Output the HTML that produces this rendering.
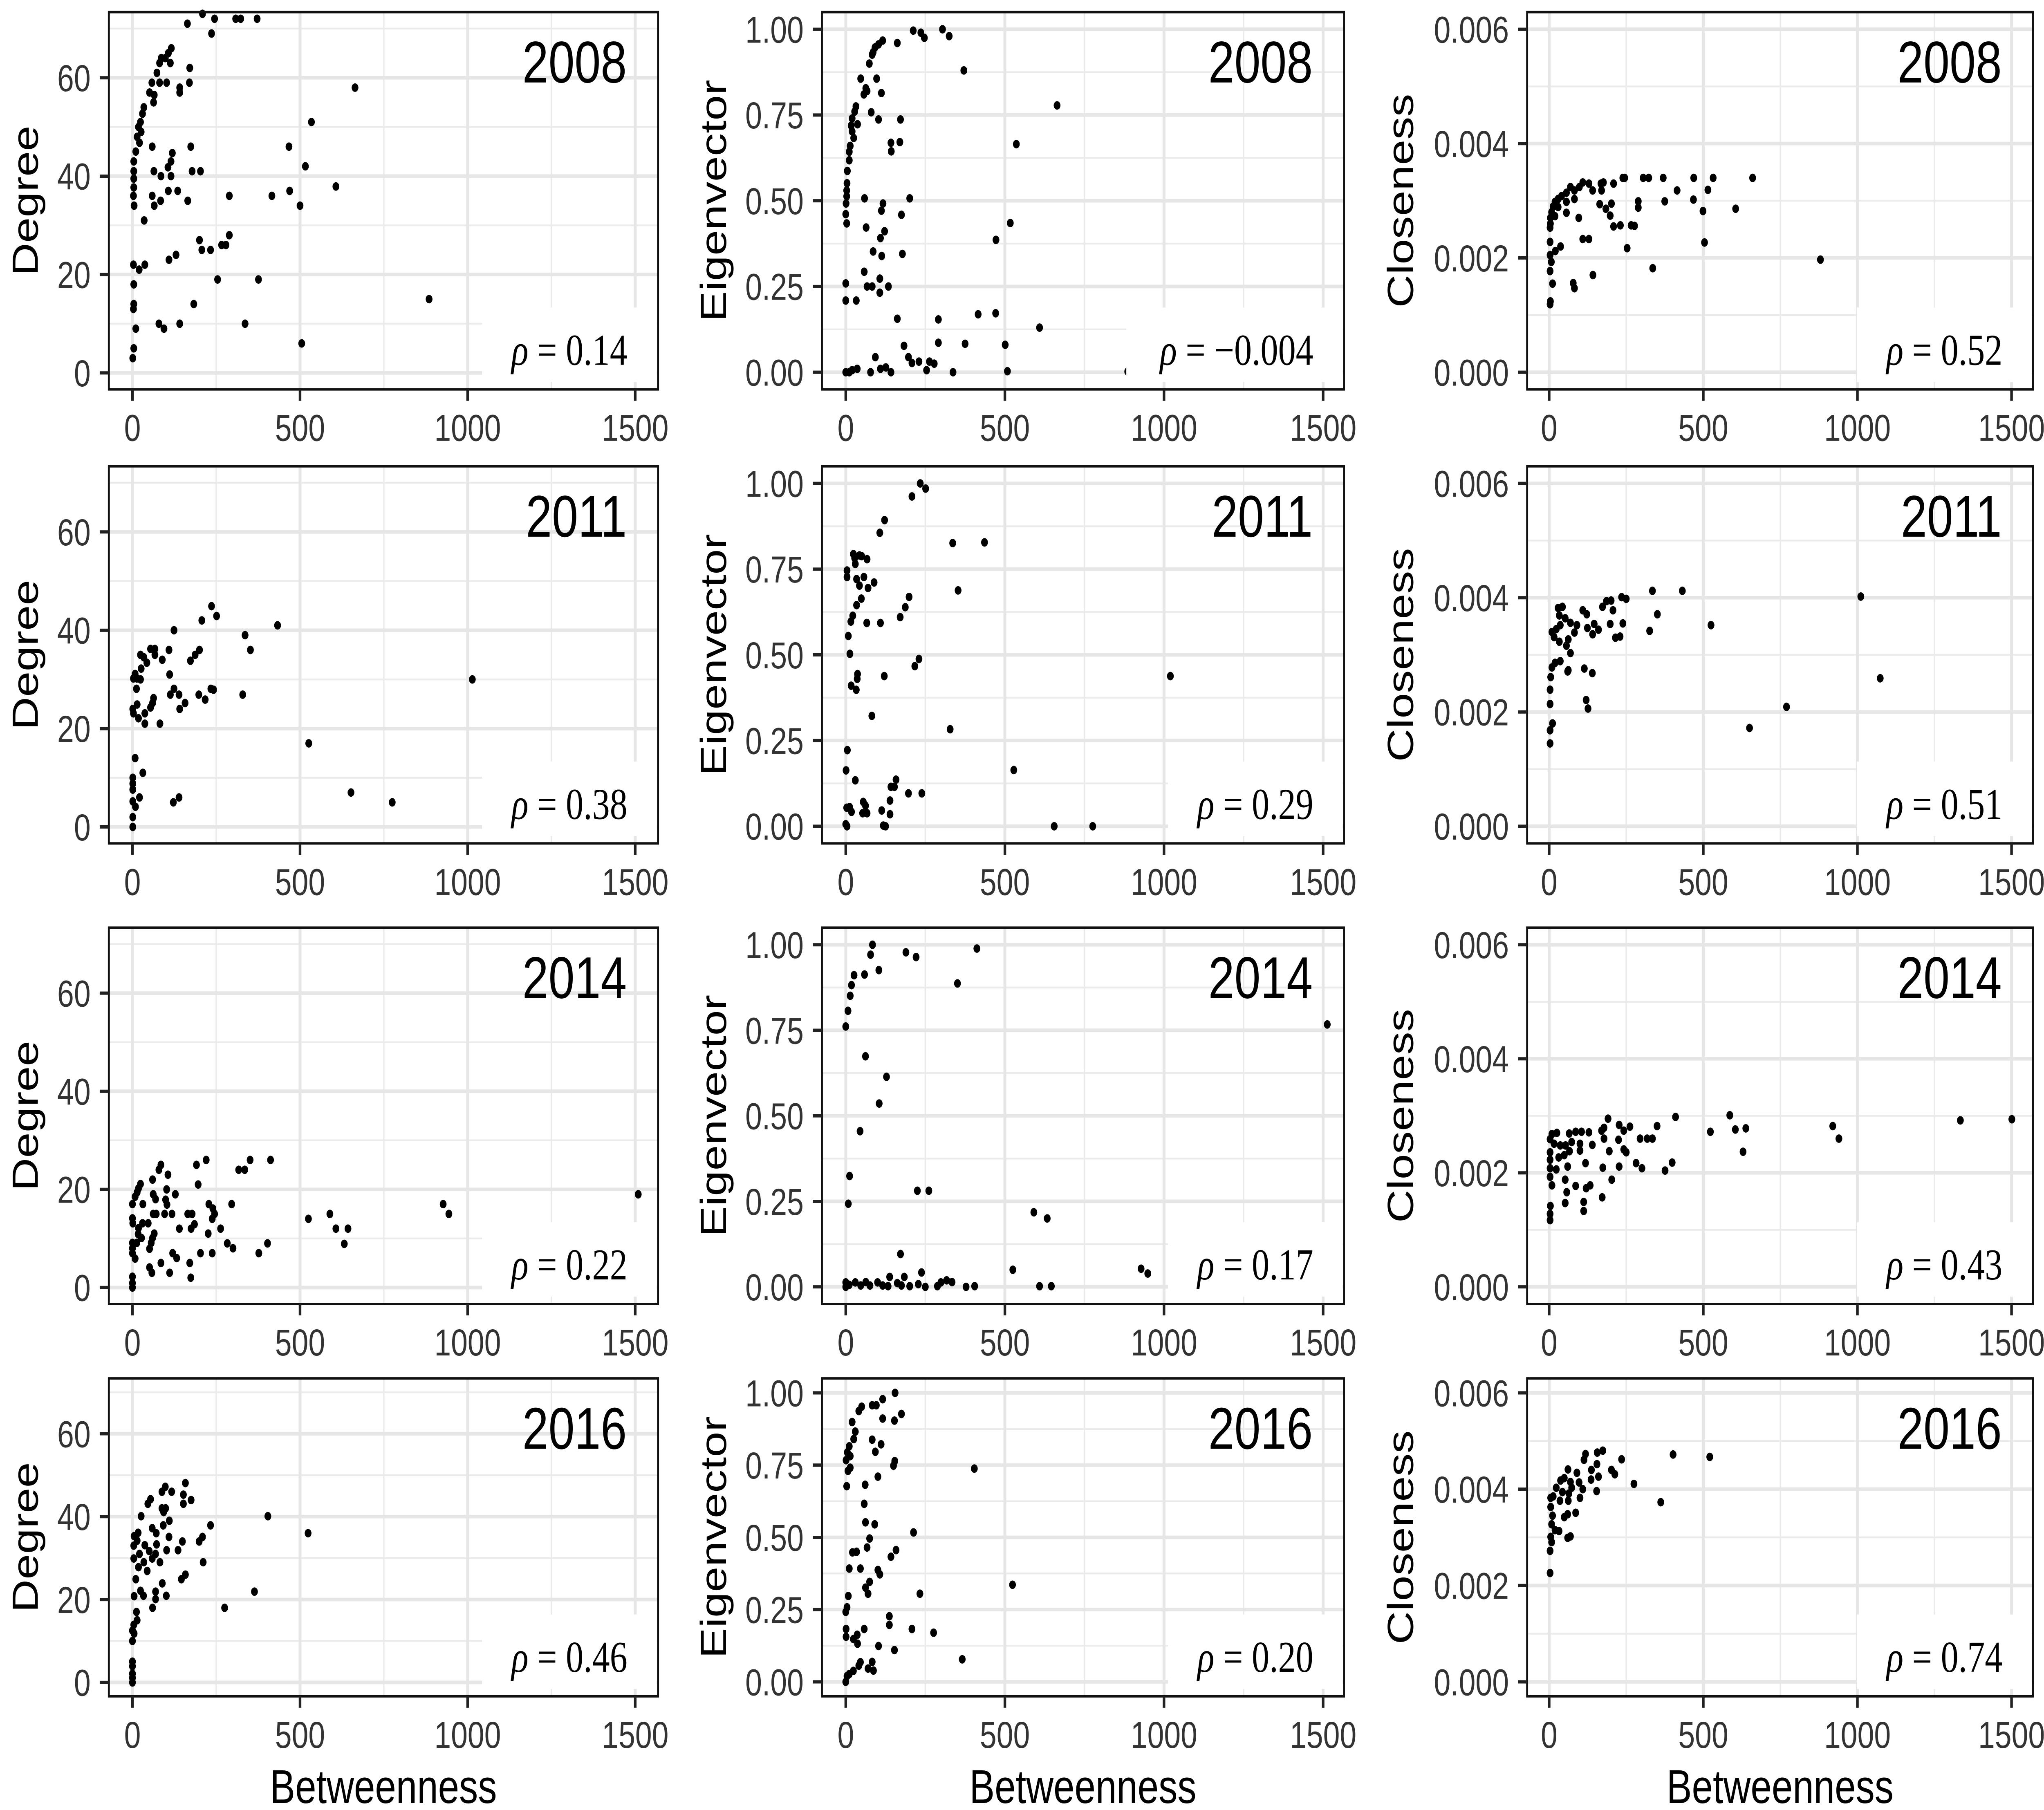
<!DOCTYPE html>
<html>
<head>
<meta charset="utf-8">
<style>
html,body{margin:0;padding:0;background:#fff;overflow:hidden;width:100vw;height:100vh;}
svg{display:block;width:100vw;height:100vh;}
</style>
</head>
<body>
<svg id="chart" xmlns="http://www.w3.org/2000/svg" viewBox="0 0 1568 1106.3" preserveAspectRatio="none"></svg>
<script>
// ---- Data ----
const years = ['2008','2011','2014','2016'];
const metrics = ['Degree','Eigenvector','Closeness'];
const rhoLabels = [['0.14','\u22120.004','0.52'],['0.38','0.29','0.51'],['0.22','0.17','0.43'],['0.46','0.20','0.74']];
const xTickValues = [0,500,1000,1500];
const xTickLabels = ['0','500','1000','1500'];
const degTickValues = [0,20,40,60];
const degTickLabels = ['0','20','40','60'];
const eigTickValues = [0,0.25,0.5,0.75,1];
const eigTickLabels = ['0.00','0.25','0.50','0.75','1.00'];
const cloTickValues = [0,0.002,0.004,0.006];
const cloTickLabels = ['0.000','0.002','0.004','0.006'];

const deg2008X = [209,245,308,323,372,164,236,116,107,98,86,81,113,171,73,58,81,102,170,141,141,51,65,63,34,30,24,18,26,14,21,10,59,174,119,115,4,106,4,64,178,203,85,115,4,4,107,135,469,607,3,59,289,416,84,165,65,5,500,516,467,534,664,35,289,200,266,279,207,233,130,109,3,37,20,254,376,4,4,183,3,885,79,94,141,336,10,505,4,1];
const deg2008Y = [73,72,72,72,72,71,69,66,65,64,64,63,63,62,61,59,59,59,59,58,57,57,56.5,55,54,52.7,51,50,49,48,46.8,45,46,46,44.7,43,43,41.8,41,41,41,41,40,40,39.5,37.7,37,37,37,37.9,36,36,36,36,35,35,34,34,34,42,46,51,58,31,28,27,26,26,25,25,24,23,22,22,21,19,19,18,14,14,13,15,10,9,10,10,9,6,5,3];
const eig2008X = [212,236,247,304,325,162,116,103,92,86,83,74,371,47,97,63,67,57,112,664,32,28,80,103,172,20,37,17,20,25,170,142,143,536,14,11,11,5,4,3,3,1,59,201,117,112,175,0,3,517,64,122,109,472,86,113,178,58,0,107,67,83,134,107,0,33,162,291,416,471,609,183,291,375,501,93,197,208,230,263,278,0,11,20,36,78,109,126,142,254,337,508,886];
const eig2008Y = [0.996,0.99,0.975,1.0,0.98,0.96,0.967,0.956,0.947,0.933,0.926,0.9,0.88,0.856,0.856,0.828,0.82,0.81,0.814,0.778,0.775,0.76,0.758,0.737,0.737,0.74,0.723,0.719,0.702,0.683,0.671,0.669,0.644,0.665,0.66,0.643,0.618,0.587,0.551,0.53,0.513,0.492,0.507,0.507,0.492,0.471,0.459,0.461,0.434,0.435,0.422,0.411,0.391,0.386,0.352,0.339,0.345,0.293,0.259,0.273,0.25,0.25,0.25,0.232,0.209,0.209,0.156,0.154,0.169,0.172,0.13,0.077,0.086,0.083,0.08,0.044,0.044,0.027,0.031,0.031,0.025,0,0,0.006,0.01,0,0.01,0.014,0,0.006,0,0.003,0.002];
const clo2008X = [239,245,305,323,370,469,532,660,415,515,375,468,289,289,605,499,209,176,168,170,141,129,109,98,82,69,56,40,29,19,13,8,4,4,3,82,56,29,56,19,164,184,202,198,209,231,266,277,96,109,129,253,504,3,37,20,3,7,3,336,142,880,11,78,82,4,3];
const clo2008Y = [0.00340,0.00340,0.00340,0.00340,0.00340,0.00340,0.00340,0.00340,0.00318,0.00319,0.00299,0.00302,0.00299,0.00288,0.00286,0.00282,0.00330,0.00332,0.00330,0.00318,0.00318,0.00330,0.00332,0.00324,0.00318,0.00324,0.00314,0.00308,0.00303,0.00298,0.00290,0.00280,0.00270,0.00260,0.00253,0.00303,0.00298,0.00289,0.00279,0.00273,0.00294,0.00286,0.00295,0.00274,0.00255,0.00257,0.00257,0.00256,0.00270,0.00233,0.00233,0.00217,0.00227,0.00228,0.00220,0.00212,0.00205,0.00193,0.00177,0.00182,0.00170,0.00197,0.00155,0.00156,0.00147,0.00124,0.00119];

const deg2011X = [236,251,207,433,124,336,352,200,187,173,109,54,67,24,34,43,26,89,67,111,8,13,24,3,1014,12,124,234,242,113,139,198,329,217,157,63,60,54,14,141,37,1,3,18,37,82,526,8,31,1,1,1,652,21,1,139,122,775,9,1,1];
const deg2011Y = [44.9,42.9,42,41,40,39,36,36,35,33.8,36,36.2,36.2,35,34.5,33.4,32.2,34,35,31,31.1,30.2,30,30.2,30,28.1,28.1,28.1,27.9,26.9,26.9,26.9,26.9,25.9,25.2,26.2,25.2,24.3,24.9,24,23.1,24,23.1,22.1,21,21,17,14,11,10,8.8,7.6,7,6,5.2,6,5,5,4.1,2,0];
const eig2011X = [234,251,208,122,107,336,436,24,28,43,50,67,30,4,4,57,34,89,43,70,353,49,199,187,34,22,171,16,66,109,8,13,230,217,37,36,121,1020,17,33,82,328,5,528,1,30,158,142,153,197,239,139,55,62,3,12,18,53,67,113,139,0,4,118,125,655,776];
const eig2011Y = [1.0,0.985,0.962,0.893,0.856,0.826,0.828,0.794,0.782,0.79,0.788,0.779,0.765,0.746,0.727,0.727,0.721,0.711,0.702,0.695,0.688,0.664,0.669,0.639,0.645,0.614,0.61,0.597,0.593,0.593,0.555,0.503,0.488,0.467,0.444,0.43,0.438,0.438,0.41,0.398,0.322,0.283,0.222,0.164,0.163,0.134,0.136,0.115,0.115,0.096,0.096,0.075,0.071,0.06,0.054,0.056,0.042,0.038,0.038,0.046,0.035,0.006,0,0.002,0,0,0];
const clo2011X = [335,432,1011,235,250,201,186,173,207,351,29,43,109,122,33,52,69,90,82,36,23,9,16,33,56,62,124,141,146,160,198,239,215,230,326,525,69,36,19,9,5,62,60,114,140,1074,3,3,120,126,770,11,3,650,3];
const clo2011Y = [0.00412,0.00412,0.00402,0.00401,0.00398,0.00395,0.00394,0.00384,0.00378,0.00371,0.00382,0.00384,0.00378,0.00371,0.00369,0.00364,0.00356,0.00352,0.00339,0.00352,0.00345,0.00340,0.00331,0.00323,0.00316,0.00327,0.00347,0.00336,0.00354,0.00344,0.00354,0.00355,0.00330,0.00332,0.00342,0.00352,0.00303,0.00289,0.00286,0.00278,0.00261,0.00273,0.00271,0.00276,0.00268,0.00259,0.00239,0.00214,0.00221,0.00206,0.00209,0.00180,0.00168,0.00172,0.00145];

const deg2014X = [220,412,351,317,335,191,85,79,106,60,196,24,18,102,14,128,62,1509,69,99,8,0,31,296,228,927,103,240,245,944,589,62,71,96,118,165,178,525,238,0,1,30,47,185,18,140,175,263,607,643,17,65,226,27,60,0,13,403,632,283,56,0,300,51,0,120,203,238,377,8,132,85,171,51,58,111,0,174,0,0];
const deg2014Y = [26,26,26,24,24,25,25,24,23,22,21,21.1,20.2,20,19.4,19,19,19,18,17.9,18.5,17,17,17,17,17,16.9,16.1,15,15,15,15,15,15,15,15,15,14,14,14.1,13.1,13.1,13.1,12.9,12.1,12,12,12,12,12,10.9,11,11,10.1,10.1,9.1,9.1,9,8.9,9,9.1,8,8,7.9,7,7,7,7,7,5.9,6,5,5,4.1,3,3,2.2,2,0.9,0];
const eig2014X = [84,412,189,221,78,104,26,59,18,351,14,7,1513,0,62,128,105,45,12,8,225,261,591,633,172,525,928,949,238,138,184,299,317,334,0,0,11,30,47,63,76,100,116,133,162,175,201,228,250,288,378,405,609,646];
const eig2014Y = [1.0,0.989,0.978,0.964,0.971,0.926,0.911,0.913,0.882,0.887,0.851,0.807,0.767,0.761,0.674,0.614,0.536,0.455,0.324,0.243,0.281,0.281,0.218,0.2,0.096,0.05,0.053,0.039,0.042,0.029,0.029,0.013,0.019,0.014,0.013,0,0.006,0.013,0.004,0.014,0.004,0.013,0.004,0.002,0.011,0.004,0.002,0.008,0,0.002,0,0.002,0.002,0.002];
const clo2014X = [1501,1334,586,410,191,920,638,604,523,940,629,350,262,227,242,170,178,178,225,295,318,335,195,242,250,140,129,105,86,65,25,9,3,16,36,53,73,100,100,66,49,31,3,3,118,282,301,399,376,227,174,60,23,3,3,52,203,9,86,133,120,57,172,112,52,4,112,3,3];
const clo2014Y = [0.00294,0.00292,0.00301,0.00298,0.00295,0.00282,0.00278,0.00276,0.00272,0.00260,0.00237,0.00282,0.00281,0.00284,0.00274,0.00274,0.00279,0.00260,0.00258,0.00260,0.00260,0.00260,0.00238,0.00241,0.00236,0.00249,0.00271,0.00272,0.00272,0.00269,0.00270,0.00268,0.00259,0.00251,0.00248,0.00248,0.00254,0.00251,0.00239,0.00238,0.00231,0.00227,0.00236,0.00223,0.00217,0.00217,0.00208,0.00218,0.00204,0.00211,0.00209,0.00211,0.00206,0.00208,0.00193,0.00188,0.00188,0.00178,0.00177,0.00178,0.00173,0.00166,0.00157,0.00149,0.00147,0.00142,0.00133,0.00128,0.00117];

const deg2016X = [158,98,117,88,152,175,152,54,46,99,88,93,26,404,110,233,92,59,71,524,17,5,209,109,199,149,136,14,37,4,72,50,102,21,69,59,4,82,34,211,18,44,158,146,10,89,24,364,69,5,101,33,69,275,60,12,14,4,0,5,0,0,0,0,0,0];
const deg2016Y = [48.1,47.2,46,46,45.3,44,43.1,44.2,43.1,42,42,41.1,40.1,40.1,39,37.9,37.9,37.2,36,36,36.1,35.3,35.1,35.1,34,34,31.9,34.2,33.1,33,33.3,31.7,31.9,31,31,29.9,29.9,29,29,29,27.8,26.9,26,24.9,24.9,23.9,22.1,21.9,21.9,20.8,20.9,20.9,20.1,18,18,17,15,13.9,12.5,11.8,10,5,3.9,2.1,1.1,0];
const eig2016X = [155,116,83,96,50,41,175,153,116,20,30,25,83,111,93,11,5,14,1,154,150,404,14,7,101,61,3,58,62,91,213,75,67,158,142,34,21,11,46,101,107,75,524,62,70,233,8,4,0,137,137,208,58,1,276,36,1,24,37,103,153,366,46,83,41,70,87,24,11,4,0];
const eig2016Y = [1.0,0.978,0.957,0.957,0.952,0.937,0.927,0.904,0.911,0.899,0.866,0.84,0.838,0.822,0.796,0.815,0.794,0.781,0.767,0.764,0.748,0.738,0.741,0.73,0.71,0.682,0.677,0.616,0.552,0.545,0.517,0.496,0.465,0.456,0.433,0.45,0.448,0.392,0.392,0.387,0.372,0.346,0.336,0.326,0.305,0.305,0.297,0.258,0.242,0.227,0.197,0.183,0.183,0.183,0.17,0.163,0.156,0.148,0.132,0.124,0.11,0.078,0.068,0.069,0.056,0.046,0.039,0.038,0.027,0.02,0];
const clo2016X = [174,156,118,402,521,235,113,155,137,202,213,61,90,160,136,275,49,69,37,97,109,154,73,23,43,64,13,5,35,362,100,62,5,86,60,49,11,8,19,32,69,60,5,8,3,3];
const clo2016Y = [0.00480,0.00476,0.00473,0.00472,0.00467,0.00462,0.00461,0.00452,0.00440,0.00440,0.00431,0.00441,0.00434,0.00426,0.00420,0.00411,0.00423,0.00415,0.00418,0.00414,0.00400,0.00396,0.00403,0.00403,0.00394,0.00391,0.00385,0.00382,0.00376,0.00373,0.00382,0.00376,0.00363,0.00351,0.00348,0.00342,0.00345,0.00327,0.00315,0.00313,0.00302,0.00299,0.00301,0.00290,0.00272,0.00226];

// ---- Layout ----
const NS = 'http://www.w3.org/2000/svg';
const svg = document.getElementById('chart');
const cols = [
  {L:83.5, R:504.8, x0:101.6, x1:487.3, titleX:29},
  {L:630.5, R:1031, x0:648.8, x1:1015, titleX:557},
  {L:1171.5, R:1559.6, x0:1188.4, x1:1543.1, titleX:1084}
];
const rows = [{T:7.4,B:238},{T:285,B:515.5},{T:567,B:797},{T:842.5,B:1036.8}];
const yDomains = [[-3.35,73.35],[-0.05,1.05],[-0.0003,0.0063]];
const yMinor = [[10,30,50,70],[0.125,0.375,0.625,0.875],[0.001,0.003,0.005]];
const yTickVals = [degTickValues,eigTickValues,cloTickValues];
const yTickLabs = [degTickLabels,eigTickLabels,cloTickLabels];
const xMinor = [250,750,1250];
const panelData = [
  [[deg2008X,deg2008Y],[eig2008X,eig2008Y],[clo2008X,clo2008Y]],
  [[deg2011X,deg2011Y],[eig2011X,eig2011Y],[clo2011X,clo2011Y]],
  [[deg2014X,deg2014Y],[eig2014X,eig2014Y],[clo2014X,clo2014Y]],
  [[deg2016X,deg2016Y],[eig2016X,eig2016Y],[clo2016X,clo2016Y]]
];

function mk(tag, attrs, parent){
  const e = document.createElementNS(NS, tag);
  for (const k in attrs) e.setAttribute(k, attrs[k]);
  (parent||svg).appendChild(e);
  return e;
}
const SANS = '"Liberation Sans", Arial, sans-serif';
const SERIF = '"Liberation Serif", "Times New Roman", serif';

rows.forEach((row, ri) => {
  cols.forEach((col, ci) => {
    const xs = v => col.x0 + v * (col.x1 - col.x0) / 1500;
    const dom = yDomains[ci];
    const ys = v => row.B - (v - dom[0]) / (dom[1] - dom[0]) * (row.B - row.T);
    const g = mk('g', {});
    
    

    const bg = mk('rect', {x:col.L, y:row.T, width:col.R-col.L, height:row.B-row.T, fill:'#fff'}, g);
    
    

    xMinor.forEach(v => {
      const l = mk('line', {x1:xs(v), x2:xs(v), y1:row.T, y2:row.B, stroke:'#ebebeb', 'stroke-width':1.1}, g);
      
      
    });
    yMinor[ci].forEach(v => {
      const l = mk('line', {x1:col.L, x2:col.R, y1:ys(v), y2:ys(v), stroke:'#ebebeb', 'stroke-width':1.1}, g);
      
      
    });
    xTickValues.forEach(v => {
      const l = mk('line', {x1:xs(v), x2:xs(v), y1:row.T, y2:row.B, stroke:'#e6e6e6', 'stroke-width':2.2}, g);
      
      
    });
    yTickVals[ci].forEach(v => {
      const l = mk('line', {x1:col.L, x2:col.R, y1:ys(v), y2:ys(v), stroke:'#e6e6e6', 'stroke-width':2.2}, g);
      
      
    });

    const [px, py] = panelData[ri][ci];
    px.forEach((xv, i) => {
      const c = mk('circle', {cx:xs(xv), cy:ys(py[i]), r:2.6, fill:'#000'}, g);
      
      
    });

    const boxW = (ri === 0 && ci === 1) ? 167 : 135;
    const box = mk('rect', {x:col.R-boxW, y:row.B-50, width:boxW-1, height:45.5, fill:'#fff'}, g);
    
    
    const rt = mk('text', {x:col.R-23.5, y:row.B-15, 'text-anchor':'end', 'font-family':SERIF, 'font-size':27, fill:'#000'}, g);
    
    
    const t1 = mk('tspan', {'font-style':'italic'}, rt);
    t1.textContent = '\u03C1';
    const t2 = mk('tspan', {}, rt);
    t2.textContent = ' = ' + rhoLabels[ri][ci];

    const yl = mk('text', {x:col.R-24, y:row.T+43, 'text-anchor':'end', 'font-family':SANS, 'font-size':36, fill:'#000'}, g);
    
    
    yl.textContent = years[ri];

    const bd = mk('rect', {x:col.L, y:row.T, width:col.R-col.L, height:row.B-row.T, fill:'none', stroke:'#111', 'stroke-width':1.5}, g);
    
    

    xTickValues.forEach((v, i) => {
      const tk = mk('line', {x1:xs(v), x2:xs(v), y1:row.B, y2:row.B+7, stroke:'#222', 'stroke-width':2}, g);
      
      
      const tl = mk('text', {x:xs(v), y:row.B+31.5, 'text-anchor':'middle', 'font-family':SANS, 'font-size':23, fill:'#333'}, g);
      
      
      tl.textContent = xTickLabels[i];
    });
    yTickVals[ci].forEach((v, i) => {
      const tk = mk('line', {x1:col.L-7, x2:col.L, y1:ys(v), y2:ys(v), stroke:'#222', 'stroke-width':2}, g);
      
      
      const tl = mk('text', {x:col.L-14, y:ys(v)+8.2, 'text-anchor':'end', 'font-family':SANS, 'font-size':23, fill:'#333'}, g);
      
      
      tl.textContent = yTickLabs[ci][i];
    });

    const cy = (row.T + row.B) / 2;
    const yt = mk('text', {x:col.titleX, y:cy, 'text-anchor':'middle', 'font-family':SANS, 'font-size':28, fill:'#000', transform:'rotate(-90 ' + col.titleX + ' ' + cy + ')'}, g);
    
    
    yt.textContent = metrics[ci];

    if (ri === rows.length - 1) {
      const xt = mk('text', {x:(col.L+col.R)/2, y:1102, 'text-anchor':'middle', 'font-family':SANS, 'font-size':29, fill:'#000'}, g);
      
      
      xt.textContent = 'Betweenness';
    }
  });
});
</script>
</body>
</html>
